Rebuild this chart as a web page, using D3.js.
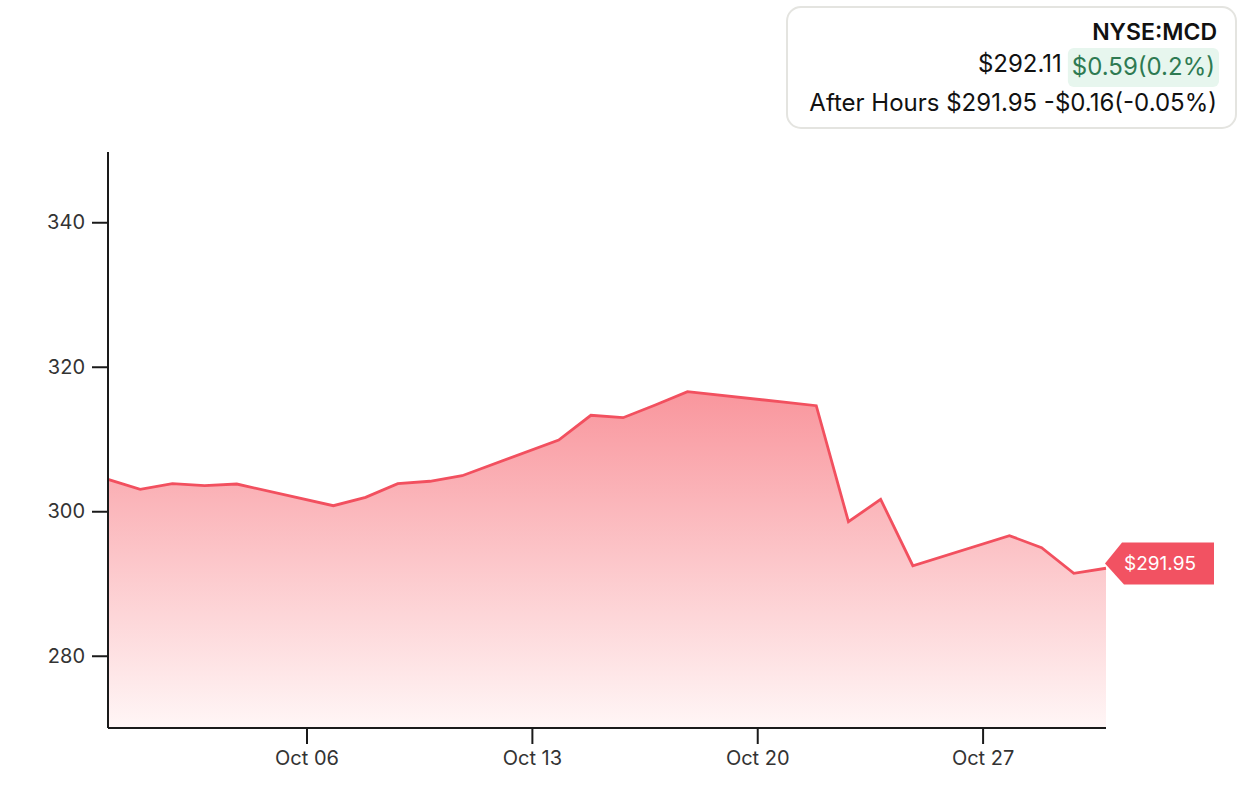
<!DOCTYPE html>
<html>
<head>
<meta charset="utf-8">
<script src="https://cdn.jsdelivr.net/npm/d3@7"></script>
<style>
  html, body { margin: 0; padding: 0; background: #ffffff; }
  svg { display: block; font-family: Inter, "Open Sans", sans-serif; }
</style>
</head>
<body>
<svg id="chart" width="1258" height="788"></svg>
<script>
// ---- data ----
const dates = ["2025-09-29","2025-09-30","2025-10-01","2025-10-02","2025-10-03",
  "2025-10-06","2025-10-07","2025-10-08","2025-10-09","2025-10-10",
  "2025-10-13","2025-10-14","2025-10-15","2025-10-16","2025-10-17",
  "2025-10-20","2025-10-21","2025-10-22","2025-10-23","2025-10-24",
  "2025-10-27","2025-10-28","2025-10-29","2025-10-30"];
const closes = [304.42, 303.04, 303.81, 303.54, 303.77,
  300.77, 301.93, 303.81, 304.15, 304.92,
  309.86, 313.28, 312.95, 314.71, 316.55,
  315.10, 314.61, 298.55, 301.65, 292.46,
  296.62, 294.96, 291.41, 292.11];
const yTicks = [280, 300, 320, 340];
const yDomain = [270, 350];
const symbol = "NYSE:MCD";
const lastPrice = "$292.11";
const change = "$0.59(0.2%)";
const afterHoursLabel = "After Hours";
const afterHoursPrice = 291.95;
const afterHoursChange = "-$0.16(-0.05%)";

// ---- layout ----
const svg = d3.select("#chart");
const margin = { left: 108, right: 1106, top: 150, bottom: 728 };
const lineColor = "#f2505f";

const parse = d3.utcParse("%Y-%m-%d");
const data = dates.map((d, i) => ({ date: d3.utcHour.offset(parse(d), 20), value: closes[i] }));

const x = d3.scaleUtc()
  .domain(d3.extent(data, d => d.date))
  .range([margin.left, margin.right]);
const y = d3.scaleLinear().domain(yDomain).range([margin.bottom, margin.top]);

// gradient
const defs = svg.append("defs");
const grad = defs.append("linearGradient")
  .attr("id", "areaGrad")
  .attr("gradientUnits", "userSpaceOnUse")
  .attr("x1", 0).attr("x2", 0)
  .attr("y1", y(d3.max(closes))).attr("y2", margin.bottom);
grad.append("stop").attr("offset", "0%").attr("stop-color", "#f9969d");
grad.append("stop").attr("offset", "100%").attr("stop-color", "#fff6f6");

const area = d3.area()
  .x(d => x(d.date))
  .y0(margin.bottom)
  .y1(d => y(d.value));
svg.append("path").datum(data)
  .attr("d", area)
  .attr("fill", "url(#areaGrad)");

const line = d3.line().x(d => x(d.date)).y(d => y(d.value));
svg.append("path").datum(data)
  .attr("d", line)
  .attr("fill", "none")
  .attr("stroke", lineColor)
  .attr("stroke-width", 2.8)
  .attr("stroke-linejoin", "miter");

// axes
const yAxis = d3.axisLeft(y).tickValues(yTicks).tickSize(16).tickPadding(7);
const yG = svg.append("g").attr("transform", `translate(${margin.left},0)`).call(yAxis);

const xAxis = d3.axisBottom(x)
  .ticks(d3.utcMonday.every(1))
  .tickFormat(d3.utcFormat("%b %d"))
  .tickSize(16).tickPadding(7);
const xG = svg.append("g").attr("transform", `translate(0,${margin.bottom})`).call(xAxis);

[yG, xG].forEach(g => {
  g.select(".domain").attr("stroke", "#1a1a1a").attr("stroke-width", 2);
  g.selectAll(".tick line").attr("stroke", "#1a1a1a").attr("stroke-width", 2);
  g.selectAll(".tick text").attr("fill", "#333").attr("font-size", 20)
    .attr("font-family", "Inter, sans-serif");
});
xG.select(".domain").attr("d", `M${margin.left},0H${margin.right}`);
yG.select(".domain").attr("d", `M0,${margin.top + 2}V${margin.bottom}`);

// after-hours price tag
const tagY = y(afterHoursPrice) - 6;
const tipX = margin.right - 1;
const tag = svg.append("g");
tag.append("path")
  .attr("d", `M${tipX},${tagY} L${tipX + 17},${tagY - 21} H${tipX + 109} V${tagY + 21} H${tipX + 19} Z`)
  .attr("fill", "#f25262");
tag.append("text")
  .attr("x", tipX + 55).attr("y", tagY + 7)
  .attr("text-anchor", "middle")
  .attr("fill", "#ffffff")
  .attr("font-size", 19)
  .text(d3.format("$.2f")(afterHoursPrice));

// info box
const box = svg.append("g");
box.append("rect")
  .attr("x", 787).attr("y", 7).attr("width", 449).attr("height", 121)
  .attr("rx", 14).attr("ry", 14)
  .attr("fill", "#ffffff").attr("stroke", "#e4e4e0").attr("stroke-width", 2);
const rightX = 1217;
box.append("text").attr("x", rightX).attr("y", 40)
  .attr("text-anchor", "end").attr("font-size", 23).attr("font-weight", 600)
  .attr("fill", "#111").text(symbol);

const chgText = box.append("text").attr("x", rightX - 2).attr("y", 75)
  .attr("text-anchor", "end").attr("font-size", 24)
  .attr("fill", "#2e7a52").text(change);
const bb = chgText.node().getBBox();
box.insert("rect", "text:last-child")
  .attr("x", bb.x - 4).attr("y", 48).attr("width", bb.width + 8).attr("height", 39)
  .attr("rx", 6).attr("fill", "#e7f6ee");
box.append("text").attr("x", bb.x - 10).attr("y", 72)
  .attr("text-anchor", "end").attr("font-size", 24)
  .attr("fill", "#111").text(lastPrice);

box.append("text").attr("x", rightX).attr("y", 111)
  .attr("text-anchor", "end").attr("font-size", 24)
  .attr("fill", "#111")
  .text(`${afterHoursLabel} ${d3.format("$.2f")(afterHoursPrice)} ${afterHoursChange}`);
</script>
</body>
</html>
